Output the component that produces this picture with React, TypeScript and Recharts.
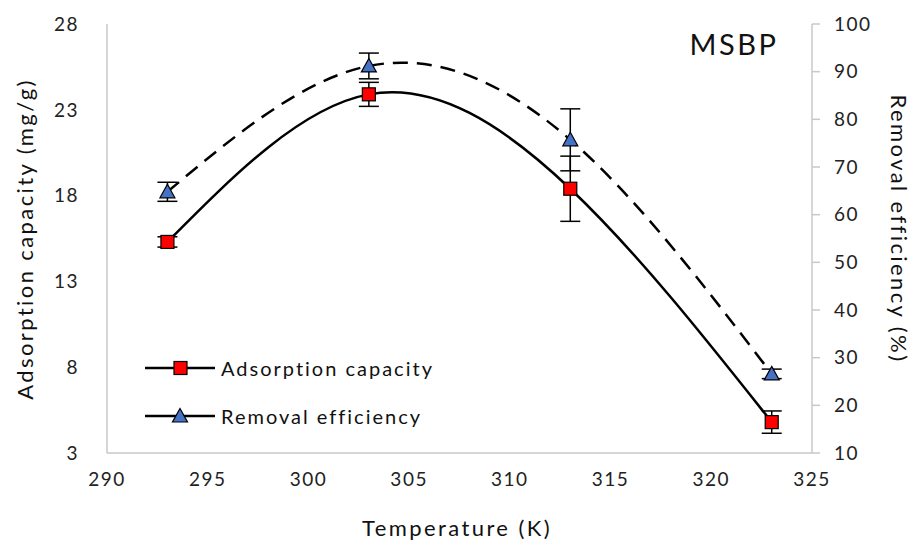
import React from 'react'
import { ComposedChart, Line, XAxis, YAxis, ErrorBar, Legend } from 'recharts'

// MSBP: adsorption capacity / removal efficiency vs temperature

const temps = [293, 303, 313, 323]
const adsorption = [15.3, 23.9, 18.4, 4.8]
const adsorptionErr = [0.3, 0.7, 1.9, 0.65]
const removal = [64.8, 91.2, 75.7, 26.6]
const removalErr = [2, 2.7, 6.5, 1]

const xTicks = [290, 295, 300, 305, 310, 315, 320, 325]
const leftTicks = [3, 8, 13, 18, 23, 28]
const rightTicks = [10, 20, 30, 40, 50, 60, 70, 80, 90, 100]

const FONT = 'Lato, "Open Sans", sans-serif'
const RED = '#ff0000'
const BLUE = '#4472c4'

const data = temps.map((t, i) => ({
  t,
  ads: adsorption[i],
  adsErr: adsorptionErr[i],
  rem: removal[i],
  remErr: removalErr[i],
}))

const SquareDot = (props: any) => {
  const { cx, cy, index } = props
  if (cx == null || cy == null) return null
  return <rect key={`sq-${index}`} x={cx - 6.5} y={cy - 6.5} width={13} height={13} fill={RED} stroke="#000" strokeWidth={1.2} />
}

const TriDot = (props: any) => {
  const { cx, cy, index } = props
  if (cx == null || cy == null) return null
  return (
    <polygon
      key={`tr-${index}`}
      points={`${cx},${cy - 7.5} ${cx + 7.5},${cy + 6} ${cx - 7.5},${cy + 6}`}
      fill={BLUE}
      stroke="#000"
      strokeWidth={1.2}
    />
  )
}

const LegendBox = () => {
  const rows = [
    { name: 'Adsorption capacity', shape: 'sq' },
    { name: 'Removal efficiency', shape: 'tri' },
  ]
  return (
    <div style={{ fontFamily: FONT, fontSize: 20, color: '#111' }}>
      {rows.map((r) => (
        <div key={r.name} style={{ display: 'flex', alignItems: 'center', height: 48 }}>
          <svg width={76} height={20}>
            <line x1={0} y1={10} x2={70} y2={10} stroke="#000" strokeWidth={2.5} />
            {r.shape === 'sq' ? (
              <rect x={29} y={3.5} width={13} height={13} fill={RED} stroke="#000" strokeWidth={1.2} />
            ) : (
              <polygon points="35,2.5 42.5,16 27.5,16" fill={BLUE} stroke="#000" strokeWidth={1.2} />
            )}
          </svg>
          <span style={{ letterSpacing: 2 }}>{r.name}</span>
        </div>
      ))}
    </div>
  )
}

const tickStyle = { fontFamily: FONT, fontSize: 19, fill: '#222', letterSpacing: 1.5 }

const titleStyle: React.CSSProperties = {
  position: 'absolute',
  whiteSpace: 'nowrap',
  fontFamily: FONT,
  fontSize: 22,
  color: '#111',
  letterSpacing: 2.4,
}

export default function App() {
  return (
    <div style={{ position: 'absolute', left: 0, top: 0, width: 914, height: 542, background: '#fff' }}>
      <ComposedChart width={914} height={542} data={data} margin={{ top: 24, right: 22, bottom: 29, left: 37 }}>
        <XAxis
          dataKey="t"
          type="number"
          domain={[290, 325]}
          ticks={xTicks}
          tickLine={false}
          axisLine={{ stroke: '#c8c8c8', strokeWidth: 1.5 }}
          tick={tickStyle}
          tickMargin={14}
          height={60}
        />
        <YAxis
          yAxisId="left"
          domain={[3, 28]}
          ticks={leftTicks}
          tickLine={false}
          axisLine={{ stroke: '#c8c8c8', strokeWidth: 1.5 }}
          tick={tickStyle}
          tickMargin={22}
          width={70}
        />
        <YAxis
          yAxisId="right"
          orientation="right"
          domain={[10, 100]}
          ticks={rightTicks}
          tickLine={{ stroke: '#c8c8c8', strokeWidth: 1.5 }}
          tickSize={8}
          axisLine={{ stroke: '#c8c8c8', strokeWidth: 1.5 }}
          tick={tickStyle}
          tickMargin={14}
          width={80}
        />
        <Line
          yAxisId="right"
          dataKey="rem"
          type="natural"
          stroke="#000"
          strokeWidth={2.5}
          strokeDasharray="15 9"
          dot={TriDot}
          activeDot={false}
          isAnimationActive={false}
        >
          <ErrorBar dataKey="remErr" direction="y" width={10} stroke="#000" strokeWidth={1.5} />
        </Line>
        <Line
          yAxisId="left"
          dataKey="ads"
          type="natural"
          stroke="#000"
          strokeWidth={2.5}
          dot={SquareDot}
          activeDot={false}
          isAnimationActive={false}
        >
          <ErrorBar dataKey="adsErr" direction="y" width={10} stroke="#000" strokeWidth={1.5} />
        </Line>
        <Legend
          layout="vertical"
          align="center"
          verticalAlign="middle"
          content={() => <LegendBox />}
          wrapperStyle={{ left: 145, top: 344, width: 340, height: 96 }}
        />
      </ComposedChart>

      <div style={{ ...titleStyle, left: 24, top: 239, transform: 'translate(-50%, -50%) rotate(-90deg)' }}>
        Adsorption capacity (mg/g)
      </div>
      <div style={{ ...titleStyle, left: 899, top: 229, transform: 'translate(-50%, -50%) rotate(90deg)' }}>
        Removal efficiency (%)
      </div>
      <div style={{ ...titleStyle, left: 457, top: 527, transform: 'translate(-50%, -50%)' }}>
        Temperature (K)
      </div>
      <div style={{ ...titleStyle, left: 734, top: 43, transform: 'translate(-50%, -50%)', fontSize: 29, letterSpacing: 2.5 }}>
        MSBP
      </div>
    </div>
  )
}
